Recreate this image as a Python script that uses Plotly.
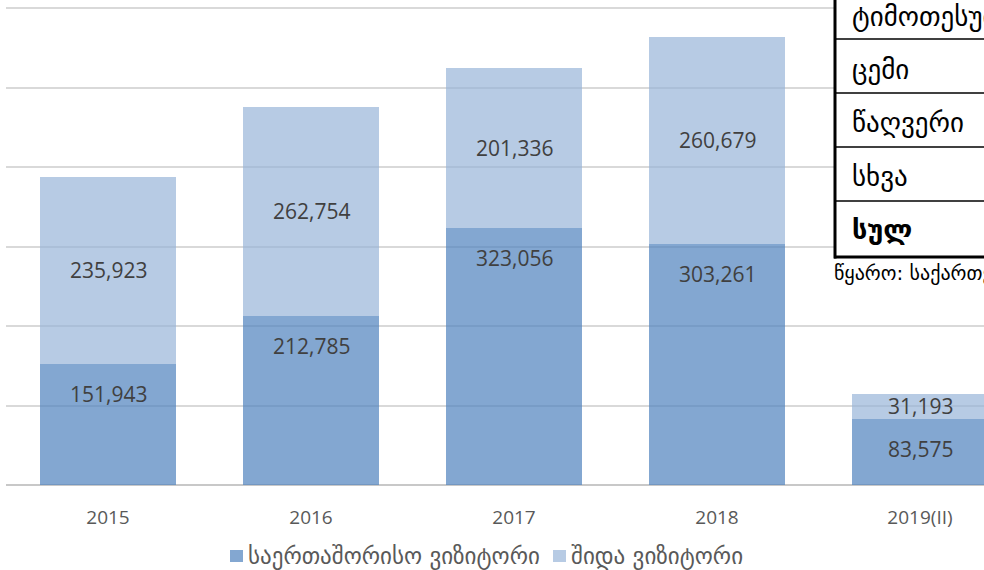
import plotly.graph_objects as go

categories = ["2015", "2016", "2017", "2018", "2019(II)"]
international = [151943, 212785, 323056, 303261, 83575]
domestic = [235923, 262754, 201336, 260679, 31193]
series_names = ["საერთაშორისო ვიზიტორი", "შიდა ვიზიტორი"]
table_rows = ["ტიმოთესუბანი", "ცემი", "წაღვერი", "სხვა", "სულ"]
source_text = "წყარო: საქართველოს"

W, H = 984, 570
L, R, T, B = 6, 0, 0, 85
PW, PH = W - L - R, H - T - B


def px(x):
    return (x - L) / PW


def py(y):
    return (T + PH - y) / PH


dark = "rgba(79,129,189,0.70)"
light = "rgba(149,179,215,0.68)"
num_font = dict(family="Open Sans", size=21, color="#404040")
geo = "DejaVu Sans"

fig = go.Figure()
fig.add_bar(x=categories, y=international, name=series_names[0],
            marker=dict(color=dark, line=dict(width=0)), width=0.67)
fig.add_bar(x=categories, y=domestic, name=series_names[1],
            marker=dict(color=light, line=dict(width=0)), width=0.67)

annotations = []
for i, (a, d) in enumerate(zip(international, domestic)):
    annotations.append(dict(x=i, y=a, xref="x", yref="y", text=f"{a:,}",
                            showarrow=False, yshift=-30, font=num_font))
    annotations.append(dict(x=i, y=a + d / 2, xref="x", yref="y", text=f"{d:,}",
                            showarrow=False, font=num_font))

# table overlay (partially visible on the right)
shapes = [dict(type="rect", xref="paper", yref="paper",
               x0=px(834), x1=px(1010), y0=py(257), y1=py(-20),
               fillcolor="white", line=dict(width=0), layer="above")]
row_lines = [39, 93, 147, 201]
for yy in row_lines:
    shapes.append(dict(type="line", xref="paper", yref="paper",
                       x0=px(834), x1=px(1010), y0=py(yy), y1=py(yy),
                       line=dict(color="black", width=1.3), layer="above"))
shapes.append(dict(type="line", xref="paper", yref="paper",
                   x0=px(834), x1=px(1010), y0=py(257), y1=py(257),
                   line=dict(color="black", width=3), layer="above"))
shapes.append(dict(type="line", xref="paper", yref="paper",
                   x0=px(835), x1=px(835), y0=py(258.5), y1=py(-5),
                   line=dict(color="black", width=3), layer="above"))
row_centers = [17, 69, 122, 176, 229]
for i, (txt, yc) in enumerate(zip(table_rows, row_centers)):
    t = f"<b>{txt}</b>" if i == len(table_rows) - 1 else txt
    annotations.append(dict(x=px(850), y=py(yc), xref="paper", yref="paper",
                            xanchor="left", yanchor="middle", text=t, showarrow=False,
                            font=dict(family=geo, size=27, color="black")))
annotations.append(dict(x=px(832), y=py(273), xref="paper", yref="paper",
                        xanchor="left", yanchor="middle", text=source_text, showarrow=False,
                        font=dict(family=geo, size=20, color="black")))

# legend (drawn manually for exact spacing)
legend_colors = [dark, light]
legend_marker_x = [230, 553]
for name, col, mx in zip(series_names, legend_colors, legend_marker_x):
    shapes.append(dict(type="rect", xref="paper", yref="paper",
                       x0=px(mx), x1=px(mx + 13), y0=py(562), y1=py(550),
                       fillcolor=col, line=dict(width=0)))
    annotations.append(dict(x=px(mx + 16), y=py(556), xref="paper", yref="paper",
                            xanchor="left", yanchor="middle", text=name, showarrow=False,
                            font=dict(family=geo, size=23, color="#595959")))

fig.update_layout(
    width=W, height=H,
    margin=dict(l=L, r=R, t=T, b=B, pad=0),
    barmode="stack",
    plot_bgcolor="white", paper_bgcolor="white",
    showlegend=False,
    annotations=annotations,
    shapes=shapes,
    xaxis=dict(type="category", range=[-(108 - L) / 203, -(108 - L) / 203 + PW / 203],
               showgrid=False, showline=False, ticks="",
               tickfont=dict(family="Open Sans", size=19, color="#595959"),
               ticklabelstandoff=19),
    yaxis=dict(range=[0, 600000 * PH / (PH - 8)], dtick=100000, showgrid=True,
               gridcolor="#d9d9d9", gridwidth=1.5, showticklabels=False,
               zeroline=True, zerolinecolor="#c8c8c8", zerolinewidth=2),
)

fig.write_html("out.html", config={"displayModeBar": False},
               post_script="document.body.style.margin='0';document.body.style.overflow='hidden';")
